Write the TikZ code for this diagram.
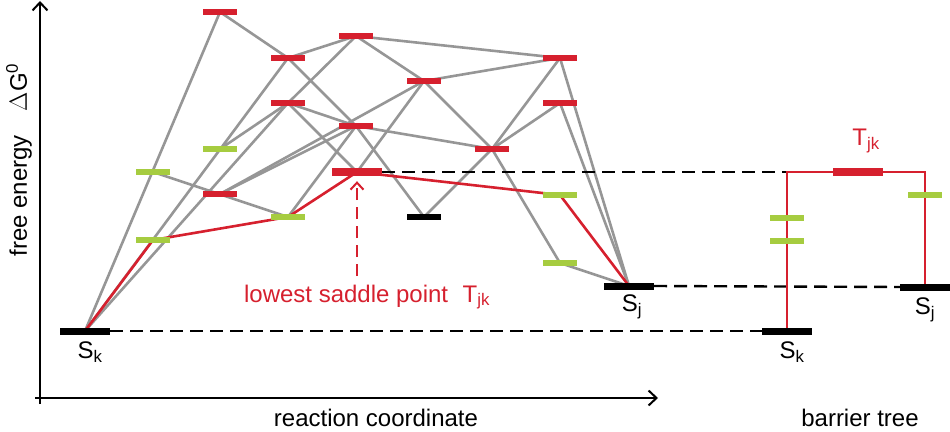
\documentclass[tikz,border=0pt]{standalone}
\usepackage{fontspec}
\setmainfont{Liberation Sans}
\usetikzlibrary{arrows.meta}
\definecolor{lvred}{RGB}{214,32,46}
\definecolor{lvgreen}{RGB}{166,204,64}
\definecolor{lvgrey}{RGB}{150,150,150}
\pgfdeclarelayer{bg}
\pgfsetlayers{bg,main}

\begin{document}
\begin{tikzpicture}[x=1pt, y=-1pt,
		font=\fontsize{24}{28}\selectfont,
		level/.style={fill=#1, minimum width=34pt, minimum height=5.5pt, inner sep=0pt},
		well/.style={fill=black, minimum width=50pt, minimum height=7pt, inner sep=0pt},
		saddle/.style={fill=lvred, minimum width=50pt, minimum height=8pt, inner sep=0pt},
		link/.style={draw=lvgrey, line width=2.6pt},
		route/.style={draw=lvred, line width=2.6pt},
		tree/.style={draw=lvred, line width=2.2pt},
		levelline/.style={draw=black, line width=2.4pt, dash pattern=on 13pt off 7pt},
		axis/.style={draw=black, line width=2pt, -{Straight Barb[length=8pt, width=15pt, line width=2pt]}}
	]
		\useasboundingbox (0,0) rectangle (950,431);

		\node[well] (sk) at (85,331) {};
		\node[level=lvgreen] (a) at (153,172) {};
		\node[level=lvgreen] (b) at (153,240) {};
		\node[level=lvred] (c) at (220,12) {};
		\node[level=lvgreen] (d) at (220,149) {};
		\node[level=lvred] (e) at (220,194) {};
		\node[level=lvred] (f) at (288,58) {};
		\node[level=lvred] (g) at (288,103) {};
		\node[level=lvgreen] (h) at (288,217) {};
		\node[level=lvred] (i) at (356,36) {};
		\node[level=lvred] (j) at (356,126) {};
		\node[saddle] (tjk) at (357,172) {};
		\node[level=lvred] (l) at (424,81) {};
		\node[level=black, minimum height=6.5pt] (m) at (424,217) {};
		\node[level=lvred] (n) at (492,149) {};
		\node[level=lvred] (o) at (560,58) {};
		\node[level=lvred] (p) at (560,103) {};
		\node[level=lvgreen] (q) at (560,195) {};
		\node[level=lvgreen] (r) at (560,263) {};
		\node[well] (sj) at (629,286) {};

		\node[well] (tsk) at (787,331) {};
		\node[well] (tsj) at (925,287) {};
		\node[saddle] (ttjk) at (858,172) {};
		\node[level=lvgreen] (tg1) at (787,218) {};
		\node[level=lvgreen] (tg2) at (787,241) {};
		\node[level=lvgreen] (tg3) at (925,195) {};

		\node (sklbl) at (90,352) {S\textsubscript{k}};
		\node (sjlbl) at (632,307) {S\textsubscript{j}};
		\node (tsklbl) at (792,352) {S\textsubscript{k}};
		\node (tsjlbl) at (925,310) {S\textsubscript{j}};
		\node[text=lvred] (ttjklbl) at (866,141) {T\textsubscript{jk}};
		\node[text=lvred] (saddlelbl) at (367,297) {lowest saddle point\hspace{0.6em}T\textsubscript{jk}};
		\node[rotate=90] (ylbl) at (19,160) {free energy\hspace{1em}$\Delta$G\textsuperscript{0}};
		\node (xlbl) at (376,418) {reaction coordinate};
		\node (treelbl) at (860,418) {barrier tree};

		\coordinate (ybot) at (40,404);
		\coordinate (ytop) at (40,1);
		\coordinate (xleft) at (35,398);
		\coordinate (xright) at (658,398);
		\coordinate (arrowfoot) at (357,276);

		\draw[axis] (ybot) -- (ytop);
		\draw[axis] (xleft) -- (xright);
		\draw[lvred, line width=2pt, dash pattern=on 12pt off 7pt, -{Straight Barb[length=7pt, width=13pt, line width=2pt]}]
			(arrowfoot) -- ([yshift=-5pt]tjk.south);

		\begin{pgfonlayer}{bg}
			\foreach \from/\to in {sk/c, sk/f, sk/g, a/h, c/f, f/i, f/j, d/g, g/j, g/tjk, e/j, i/g, e/l,
				tjk/l, h/j, i/l, i/o, l/o, l/n, j/n, j/m, m/n, n/o, n/p, n/r, o/sj, p/sj, r/sj}
				\draw[link] (\from.center) -- (\to.center);
			\draw[levelline] (tjk.east) -- (tsk.center |- tjk.center);
			\draw[levelline] (sj.east) -- (tsj.west);
			\draw[levelline] (sk.east) -- (tsk.west);
			\draw[route] (sk.center) -- (b.center) -- (h.center) -- (tjk.center) -- (q.center) -- (sj.center);
			\draw[tree] (tsk.center) |- (ttjk.center) -| (tsj.center);
		\end{pgfonlayer}
	\end{tikzpicture}
\end{document}
